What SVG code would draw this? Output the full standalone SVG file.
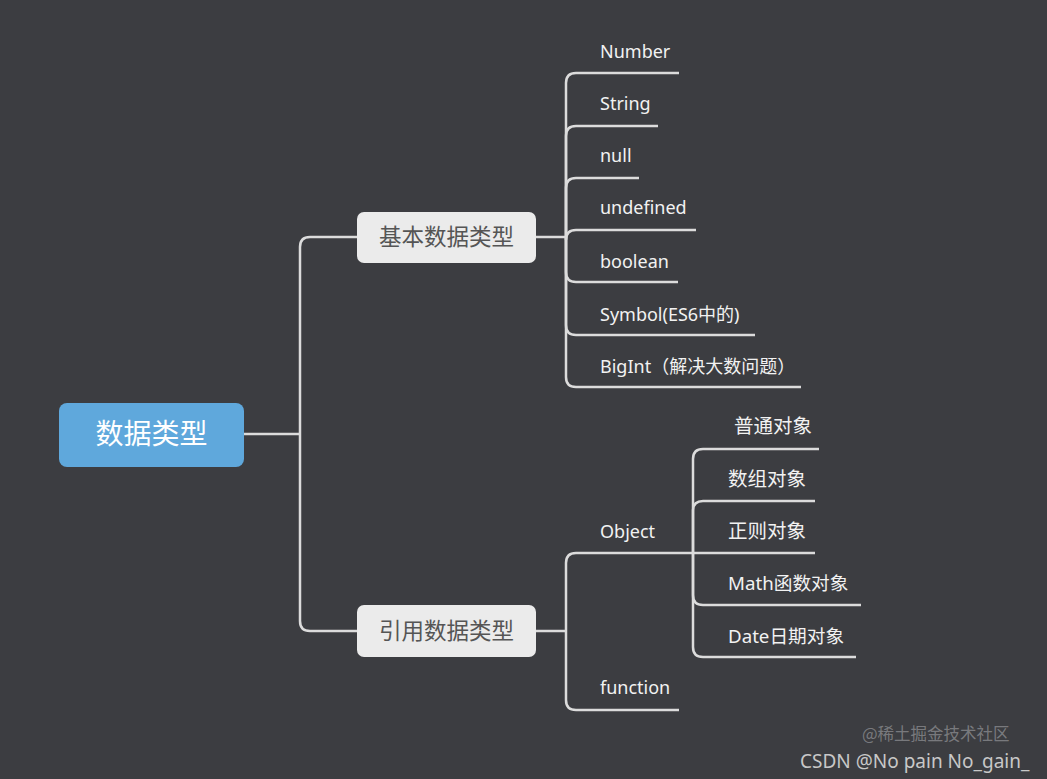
<svg xmlns="http://www.w3.org/2000/svg" width="1047" height="779" viewBox="0 0 1047 779">
<style>
.bg{fill:#3c3d41}
.ln{fill:none;stroke:#dcdcdc;stroke-width:2.5;stroke-linecap:butt}
.t{font-family:"Noto Sans","Noto Sans CJK SC",sans-serif;font-size:18px;fill:#f2f2f2}
.m{font-family:"Noto Sans","Noto Sans CJK SC",sans-serif;font-size:18.7px;fill:#f2f2f2}
.c{font-family:"Noto Sans CJK SC","Noto Sans",sans-serif;font-size:19.5px;fill:#f2f2f2}
.sub{fill:#ebebeb}
.subt{font-family:"Noto Sans CJK SC",sans-serif;font-size:22.5px;fill:#555555;text-anchor:middle}
</style>
<rect class="bg" x="0" y="0" width="1047" height="779"/>
<g id="connectors">
<path class="ln" d="M243,434 H300"/>
<path class="ln" d="M300,434 V247 Q300,237 310,237 H357"/>
<path class="ln" d="M300,434 V621 Q300,631 310,631 H357"/>
<path class="ln" d="M536,237 H566"/>
<path class="ln" d="M566,237 V83 Q566,73 576,73 H679"/>
<path class="ln" d="M566,237 V136 Q566,126 576,126 H658"/>
<path class="ln" d="M566,237 V188 Q566,178 576,178 H639"/>
<path class="ln" d="M566,237 V240 Q566,230 576,230 H696"/>
<path class="ln" d="M566,237 V272 Q566,282 576,282 H678"/>
<path class="ln" d="M566,237 V325 Q566,335 576,335 H755"/>
<path class="ln" d="M566,237 V377 Q566,387 576,387 H801"/>
<path class="ln" d="M536,631 H566"/>
<path class="ln" d="M566,631 V563 Q566,553 576,553 H693"/>
<path class="ln" d="M566,631 V700 Q566,710 576,710 H679"/>
<path class="ln" d="M693,553 V459 Q693,449 703,449 H819"/>
<path class="ln" d="M693,553 V511 Q693,501 703,501 H815"/>
<path class="ln" d="M693,553 H815"/>
<path class="ln" d="M693,553 V595 Q693,605 703,605 H861"/>
<path class="ln" d="M693,553 V647 Q693,657 703,657 H856"/>
</g>
<g id="root">
<rect x="59" y="403" width="185" height="64" rx="8" fill="#5fa8dc"/>
<text x="151.5" y="443.5" font-family="Noto Sans CJK SC,sans-serif" font-size="28" fill="#ffffff" text-anchor="middle">数据类型</text>
</g>
<g id="basic">
<rect class="sub" x="357" y="212" width="179" height="51" rx="7"/>
<text class="subt" x="446.5" y="245">基本数据类型</text>
</g>
<g id="ref">
<rect class="sub" x="357" y="605" width="179" height="52" rx="7"/>
<text class="subt" x="446.5" y="639">引用数据类型</text>
</g>
<g id="number"><text class="t" x="600" y="58">Number</text></g>
<g id="string"><text class="t" x="600" y="110">String</text></g>
<g id="null"><text class="t" x="600" y="162">null</text></g>
<g id="undefined"><text class="t" x="600" y="214">undefined</text></g>
<g id="boolean"><text class="t" x="600" y="268">boolean</text></g>
<g id="symbol"><text class="t" x="600" y="321">Symbol(ES6中的)</text></g>
<g id="bigint"><text class="t" x="600" y="373">BigInt（解决大数问题）</text></g>
<g id="object"><text class="t" x="600" y="538">Object</text></g>
<g id="function"><text class="t" x="600" y="694">function</text></g>
<g id="plain"><text class="c" x="734" y="433">普通对象</text></g>
<g id="array"><text class="c" x="728" y="486">数组对象</text></g>
<g id="regexp"><text class="c" x="728" y="538">正则对象</text></g>
<g id="math"><text class="m" x="728" y="590">Math函数对象</text></g>
<g id="date"><text class="m" x="728" y="643">Date日期对象</text></g>
<g id="watermark">
<text x="862" y="740" font-family="Noto Sans CJK SC,sans-serif" font-size="16.5" fill="#8a8b8e" fill-opacity="0.8">@稀土掘金技术社区</text>
<text x="800" y="768" font-family="Noto Sans,sans-serif" font-size="19" fill="#c8c8c8">CSDN @No pain No_gain_</text>
</g>
</svg>
